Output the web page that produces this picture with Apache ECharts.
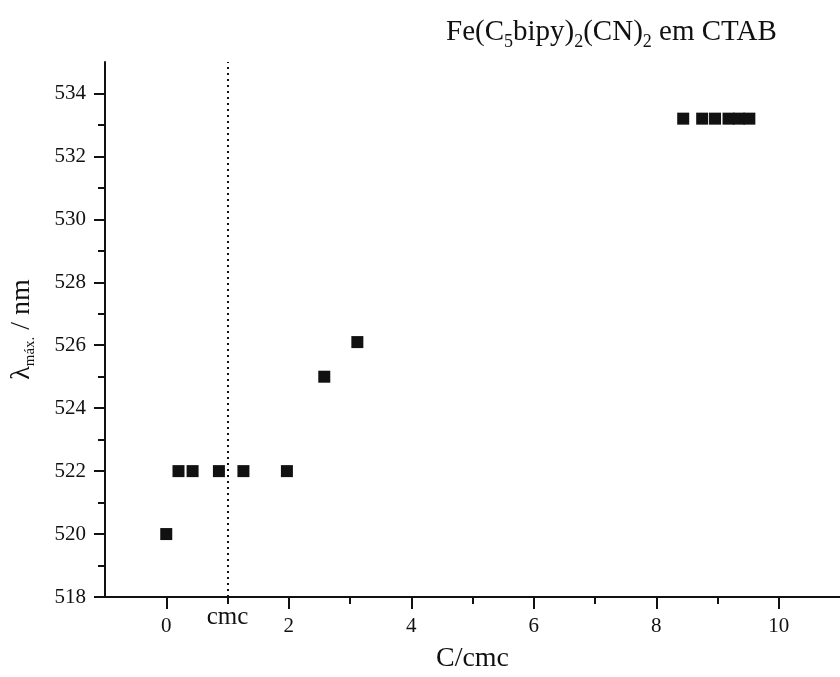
<!DOCTYPE html>
<html>
<head>
<meta charset="utf-8">
<script src="https://cdn.jsdelivr.net/npm/echarts@6/dist/echarts.min.js"></script>
<style>
  html, body { margin: 0; padding: 0; background: #fff; }
  #chart { width: 840px; height: 677px; }
</style>
</head>
<body>
<div id="chart"></div>
<script>
// Absorption maximum of Fe(C5bipy)2(CN)2 versus surfactant concentration (C/cmc)
const concRatio = [0, 0.20, 0.43, 0.86, 1.26, 1.97, 2.58, 3.12, 8.44, 8.75, 8.96, 9.18, 9.35, 9.52];
const lambdaMax = [520.0, 522.0, 522.0, 522.0, 522.0, 522.0, 525.0, 526.1, 533.2, 533.2, 533.2, 533.2, 533.2, 533.2];
const xMajorTicks = [0, 2, 4, 6, 8, 10];
const xMinorTicks = [1, 3, 5, 7, 9];
const yMajorTicks = [518, 520, 522, 524, 526, 528, 530, 532, 534];
const yMinorTicks = [519, 521, 523, 525, 527, 529, 531, 533];
const cmcPosition = 1;

const serif = '"Liberation Serif", "Times New Roman", serif';
const ink = '#111';

const points = concRatio.map((c, i) => [c, lambdaMax[i]]);

const chart = echarts.init(document.getElementById('chart'), null, { renderer: 'canvas' });

const tickStyle = { color: ink, width: 2 };

chart.setOption({
  backgroundColor: '#fff',
  animation: false,
  title: {
    text: 'Fe(C{sub|5}bipy){sub|2}(CN){sub|2} em CTAB',
    left: 441,
    top: 8,
    textStyle: {
      fontFamily: serif,
      fontSize: 29,
      fontWeight: 'normal',
      color: ink,
      rich: {
        sub: { fontFamily: serif, fontSize: 18, color: ink, padding: [20, 0, 0, 0] }
      }
    }
  },
  grid: { left: 105, right: 0, top: 62, bottom: 80, containLabel: false, outerBoundsMode: 'none' },
  xAxis: [
    {
      type: 'value',
      min: -1,
      max: 11,
      name: 'C/cmc',
      nameLocation: 'middle',
      nameGap: 48,
      nameTextStyle: { fontFamily: serif, fontSize: 28, color: ink },
      axisLine: { show: true, onZero: false, lineStyle: { color: ink, width: 2 } },
      axisTick: { show: true, inside: false, length: 12, customValues: xMajorTicks, lineStyle: tickStyle },
      axisLabel: { show: true, customValues: xMajorTicks, margin: 19, fontFamily: serif, fontSize: 21, color: ink },
      splitLine: { show: false }
    },
    {
      type: 'value',
      min: -1,
      max: 11,
      position: 'bottom',
      axisLine: { show: false, onZero: false },
      axisTick: { show: true, inside: false, length: 7, customValues: xMinorTicks, lineStyle: tickStyle },
      axisLabel: { show: false },
      splitLine: { show: false }
    }
  ],
  yAxis: [
    {
      type: 'value',
      min: 518,
      max: 535,
      name: 'λ{sub|máx.} / nm',
      nameLocation: 'middle',
      nameGap: 67,
      nameRotate: 90,
      nameTextStyle: {
        fontFamily: serif,
        fontSize: 28,
        color: ink,
        rich: {
          sub: { fontFamily: serif, fontSize: 15, color: ink, padding: [18, 0, 0, 0] }
        }
      },
      axisLine: { show: true, onZero: false, lineStyle: { color: ink, width: 2 } },
      axisTick: { show: true, inside: false, length: 11, customValues: yMajorTicks, lineStyle: tickStyle },
      axisLabel: { customValues: yMajorTicks, margin: 19, fontFamily: serif, fontSize: 21, color: ink },
      splitLine: { show: false }
    },
    {
      type: 'value',
      min: 518,
      max: 535,
      position: 'left',
      axisLine: { show: false, onZero: false },
      axisTick: { show: true, inside: false, length: 7, customValues: yMinorTicks, lineStyle: tickStyle },
      axisLabel: { show: false },
      splitLine: { show: false }
    }
  ],
  series: [
    {
      type: 'scatter',
      xAxisIndex: 0,
      yAxisIndex: 0,
      data: points,
      symbol: 'rect',
      symbolSize: 12,
      itemStyle: { color: ink, opacity: 1 },
      markLine: {
        silent: true,
        symbol: ['none', 'none'],
        lineStyle: { color: ink, width: 2, type: [2, 4] },
        label: {
          show: true,
          position: 'start',
          distance: 8,
          formatter: 'cmc',
          fontFamily: serif,
          fontSize: 25,
          color: ink
        },
        data: [{ xAxis: cmcPosition }]
      }
    }
  ]
});
</script>
</body>
</html>
